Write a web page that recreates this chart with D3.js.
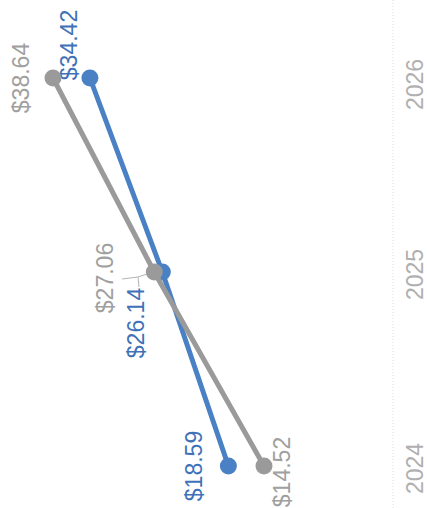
<!DOCTYPE html>
<html>
<head>
<meta charset="utf-8">
<script src="https://cdn.jsdelivr.net/npm/d3@7"></script>
<style>
  body { margin: 0; background: #fff; }
  svg { display: block; font-family: "Liberation Sans", Arial, sans-serif; }
</style>
</head>
<body>
<svg width="427" height="508"></svg>
<script>
// data
var years = ["2024", "2025", "2026"];
var blueValues = [18.59, 26.14, 34.42];
var grayValues = [14.52, 27.06, 38.64];
var labelFormat = function(v) { return "$" + v.toFixed(2); };

// label nudges in screen px (layout only)
var blueNudge = [[-32, 0], [-24, 51], [-19, -33]];
var grayNudge = [[20, 6], [-47, 6], [-30, 0]];

var svg = d3.select("svg");

// chart is drawn turned a quarter: years run bottom -> top, values run right -> left
var y = d3.scalePoint().domain(years).range([466, 78]);
var x = d3.scaleLinear().domain([0, 38.64]).range([391, 53]);

// baseline / year axis
var axis = d3.axisRight(y).tickSize(0).tickPadding(0);
var ax = svg.append("g")
  .attr("transform", "translate(393,0)")
  .call(axis);
ax.select(".domain").remove();
ax.append("line")
  .attr("y1", 0).attr("y2", 508)
  .attr("stroke", "#ddd")
  .attr("stroke-width", 1)
  .attr("stroke-dasharray", "1,2");
ax.selectAll(".tick text")
  .attr("x", 0).attr("dy", 0)
  .attr("text-anchor", "middle")
  .attr("dominant-baseline", "middle")
  .attr("transform", function(d) { return "translate(24," + (d == "2026" ? 6 : 2) + ") rotate(-90)"; })
  .style("font-size", "23px")
  .attr("fill", "#b0b0b0");

var series = [
  { name: "blue", values: blueValues, line: "#4a80c4", text: "#3f72b8", nudge: blueNudge },
  { name: "gray", values: grayValues, line: "#9a9a9a", text: "#a0a0a0", nudge: grayNudge }
];

var line = d3.line()
  .x(function(d) { return x(d.v); })
  .y(function(d) { return y(d.year); });

// leader for the crowded middle label
svg.append("path")
  .attr("d", "M122,279 L138,277 L150,273 M138,277 L139,287")
  .attr("fill", "none")
  .attr("stroke", "#b5b5b5")
  .attr("stroke-width", 1);

series.forEach(function(s) {
  var pts = years.map(function(yr, i) { return { year: yr, v: s.values[i], i: i }; });

  svg.append("path")
    .datum(pts)
    .attr("d", line)
    .attr("fill", "none")
    .attr("stroke", s.line)
    .attr("stroke-width", 5);

  svg.selectAll(".dot-" + s.name)
    .data(pts).enter()
    .append("circle")
    .attr("cx", function(d) { return x(d.v); })
    .attr("cy", function(d) { return y(d.year); })
    .attr("r", 8.5)
    .attr("fill", s.line);

  svg.selectAll(".lab-" + s.name)
    .data(pts).enter()
    .append("text")
    .attr("text-anchor", "middle")
    .attr("dominant-baseline", "middle")
    .attr("transform", function(d) {
      var n = s.nudge[d.i];
      return "translate(" + (x(d.v) + n[0]) + "," + (y(d.year) + n[1]) + ") rotate(-90)";
    })
    .style("font-size", "23px")
    .attr("fill", s.text)
    .text(function(d) { return labelFormat(d.v); });
});
</script>
</body>
</html>
